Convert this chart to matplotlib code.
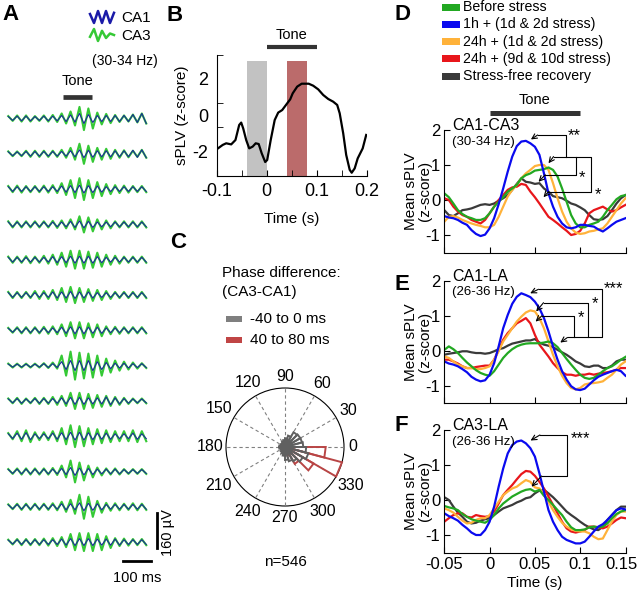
import numpy as np
import matplotlib
matplotlib.use("Agg")
import matplotlib.pyplot as plt
from matplotlib.patches import Rectangle, Circle
from matplotlib.transforms import blended_transform_factory, ScaledTranslation

plt.rcParams['font.family'] = ['Liberation Sans', 'DejaVu Sans']

W, H = 640, 595

# ---------------- panel A: band-passed LFP examples (cycle amplitudes, uV) ----------------
CA3_AMP = [
    [11, 14, 14, 11, 14, 16, 23, 32, 53, 46, 27, 21, 16, 14, 18, 23],
    [11, 11, 14, 14, 14, 14, 18, 27, 46, 37, 27, 23, 18, 16, 14, 18],
    [14, 16, 14, 14, 16, 18, 27, 41, 50, 41, 32, 23, 18, 16, 14, 14],
    [14, 14, 14, 14, 14, 16, 18, 23, 37, 32, 23, 18, 14, 14, 14, 14],
    [14, 14, 16, 14, 18, 23, 32, 41, 41, 37, 32, 23, 18, 14, 14, 14],
    [14, 14, 14, 18, 18, 23, 32, 37, 32, 27, 23, 18, 14, 14, 14, 14],
    [11, 14, 14, 14, 16, 18, 27, 37, 37, 32, 27, 18, 16, 14, 14, 14],
    [9, 9, 9, 9, 11, 14, 46, 64, 59, 55, 46, 32, 23, 18, 14, 11],
    [11, 14, 11, 14, 14, 18, 23, 37, 37, 32, 27, 23, 18, 14, 11, 11],
    [14, 23, 27, 18, 18, 23, 37, 50, 46, 37, 32, 27, 23, 23, 27, 23],
    [11, 14, 14, 14, 14, 16, 27, 50, 41, 27, 18, 14, 14, 11, 11, 11],
    [11, 14, 14, 14, 14, 16, 23, 32, 55, 46, 27, 18, 16, 14, 16, 14],
    [11, 14, 14, 14, 16, 18, 23, 37, 41, 41, 37, 27, 18, 16, 14, 14],
]
CA1_AMP = [
    [9, 11, 11, 9, 11, 11, 14, 16, 23, 18, 14, 14, 14, 14, 18, 23],
    [9, 9, 11, 11, 11, 11, 11, 14, 18, 16, 14, 14, 14, 14, 16, 18],
    [11, 11, 11, 11, 11, 11, 14, 16, 18, 16, 14, 11, 11, 11, 11, 11],
    [11, 11, 11, 11, 11, 11, 11, 14, 16, 14, 11, 11, 11, 11, 11, 11],
    [11, 11, 11, 11, 11, 14, 14, 16, 16, 16, 14, 11, 11, 11, 11, 11],
    [11, 11, 11, 11, 11, 14, 14, 16, 14, 14, 11, 11, 11, 11, 11, 11],
    [9, 11, 11, 11, 11, 11, 14, 16, 16, 14, 14, 11, 11, 11, 11, 11],
    [7, 7, 7, 7, 9, 9, 18, 23, 23, 23, 18, 14, 11, 11, 9, 9],
    [9, 11, 9, 11, 11, 11, 14, 16, 16, 14, 14, 18, 14, 11, 9, 9],
    [11, 14, 16, 11, 11, 14, 16, 18, 18, 16, 14, 14, 11, 11, 14, 11],
    [9, 11, 11, 11, 11, 11, 14, 18, 16, 14, 11, 11, 11, 9, 9, 9],
    [9, 11, 11, 11, 11, 11, 14, 14, 18, 16, 14, 11, 11, 11, 11, 11],
    [9, 11, 11, 11, 11, 11, 14, 16, 16, 16, 14, 14, 14, 11, 11, 11],
]
ICON_CA1 = [0.5, -1, 1, -1, 1, -1, 0.7]
ICON_CA3 = [-0.3, 1, -1, 0.7, -0.5, 0.25, 0]

# ---------------- panel B ----------------
B_TIME = [-0.1, -0.088, -0.081, -0.071, -0.0625, -0.055, -0.051, -0.047, -0.041, -0.035,
          -0.028, -0.022, -0.016, -0.01, -0.003, 0.001, 0.008, 0.016, 0.023, 0.031,
          0.041, 0.047, 0.052, 0.061, 0.070, 0.084, 0.093, 0.103, 0.113, 0.123,
          0.133, 0.141, 0.146, 0.153, 0.159, 0.166, 0.170, 0.176, 0.182, 0.192, 0.199]
B_SPLV = [-1.87, -1.63, -1.54, -1.60, -1.36, -0.53, -0.40, -0.72, -1.36, -1.82,
          -1.72, -1.54, -1.58, -2.09, -2.57, -2.46, -1.36, -0.26, 0.15, 0.29,
          0.66, 0.88, 1.21, 1.58, 1.74, 1.74, 1.63, 1.43, 1.12, 0.90,
          0.75, 0.57, 0.11, -0.99, -2.18, -3.00, -3.16, -2.92, -2.37, -1.82, -1.08]
B_WINDOWS = [(-0.04, 0.0), (0.04, 0.08)]

# ---------------- panel C: rose histogram (24 bins of 15 deg, radius / max) ----------------
ROSE_GRAY = [0.31, 0.30, 0.30, 0.29, 0.20, 0.15, 0.12, 0.10, 0.08, 0.08, 0.08, 0.10,
             0.10, 0.08, 0.08, 0.10, 0.12, 0.15, 0.22, 0.25, 0.28, 0.35, 0.41, 0.36]
ROSE_RED = [0.08, 0.05, 0.03, 0.03, 0.02, 0.02, 0.02, 0.02, 0.02, 0.02, 0.02, 0.02,
            0.02, 0.02, 0.02, 0.02, 0.02, 0.03, 0.06, 0.15, 0.33, 0.56, 1.00, 0.69]
ANGLE_LABELS = [0, 30, 60, 90, 120, 150, 180, 210, 240, 270, 300, 330]

# ---------------- panels D-F: mean sPLV, sampled every 5 ms ----------------
T = np.round(np.arange(-0.05, 0.1501, 0.005), 3)
GROUPS = ['Before stress', '1h + (1d & 2d stress)', '24h + (1d & 2d stress)',
          '24h + (9d & 10d stress)', 'Stress-free recovery']
COLORS = ['#22a822', '#0a0aef', '#ffb23a', '#e8161b', '#3a3a3a']

D_GREEN = [0.19, 0.08, -0.10, -0.29, -0.40, -0.48, -0.52, -0.57, -0.57, -0.52, -0.38, -0.19, -0.05, 0.08,
           0.24, 0.33, 0.43, 0.62, 0.71, 0.76, 0.84, 0.86, 0.88, 0.93, 0.86, 0.67, 0.33, -0.05, -0.43,
           -0.67, -0.78, -0.78, -0.71, -0.67, -0.62, -0.48, -0.29, -0.14, 0.02, 0.11, 0.14]
D_BLUE = [-0.46, -0.50, -0.52, -0.57, -0.65, -0.71, -0.86, -0.97, -1.03, -0.99, -0.81, -0.52, -0.12, 0.33,
          0.81, 1.24, 1.54, 1.67, 1.69, 1.62, 1.52, 1.29, 0.76, 0.19, -0.19, -0.48, -0.67, -0.78, -0.81,
          -0.78, -0.71, -0.71, -0.74, -0.76, -0.84, -0.90, -0.81, -0.71, -0.62, -0.57, -0.52]
D_YELLOW = [-0.62, -0.48, -0.46, -0.50, -0.57, -0.62, -0.67, -0.71, -0.74, -0.78, -0.78, -0.71, -0.48, -0.19,
            0.10, 0.29, 0.43, 0.62, 0.76, 0.86, 0.97, 1.00, 1.00, 0.86, 0.48, 0.05, -0.33, -0.62, -0.81,
            -0.93, -0.97, -0.95, -0.90, -0.88, -0.84, -0.81, -0.67, -0.48, -0.29, -0.10, 0.05]
D_RED = [0.05, 0.00, -0.19, -0.33, -0.43, -0.48, -0.57, -0.62, -0.67, -0.57, -0.38, -0.19, 0.00, 0.14,
         0.29, 0.36, 0.38, 0.46, 0.43, 0.24, 0.08, -0.10, -0.29, -0.48, -0.57, -0.67, -0.78, -0.88, -1.00,
         -0.97, -0.88, -0.67, -0.38, -0.29, -0.24, -0.19, -0.27, -0.33, -0.29, -0.21, -0.14]
D_BLACK = [-0.29, -0.43, -0.46, -0.38, -0.29, -0.27, -0.24, -0.19, -0.14, -0.12, -0.14, -0.10, -0.02, 0.05,
           0.14, 0.29, 0.46, 0.62, 0.52, 0.50, 0.46, 0.48, 0.33, 0.24, 0.11, 0.08, 0.05, -0.02, -0.10,
           -0.14, -0.21, -0.29, -0.43, -0.55, -0.57, -0.55, -0.46, -0.29, -0.10, 0.05, 0.14]

E_GREEN = [0.02, 0.12, 0.04, -0.07, -0.21, -0.34, -0.45, -0.56, -0.64, -0.69, -0.72, -0.59, -0.40, -0.21,
           -0.07, 0.04, 0.12, 0.17, 0.20, 0.21, 0.21, 0.21, 0.23, 0.26, 0.21, 0.10, -0.07, -0.24, -0.40,
           -0.55, -0.69, -0.78, -0.81, -0.78, -0.69, -0.59, -0.50, -0.45, -0.36, -0.26, -0.18]
E_BLUE = [-0.31, -0.37, -0.40, -0.45, -0.53, -0.62, -0.75, -0.83, -0.88, -0.85, -0.69, -0.36, 0.12, 0.64,
          1.02, 1.34, 1.54, 1.64, 1.59, 1.53, 1.40, 1.21, 0.93, 0.55, 0.12, -0.26, -0.59, -0.83, -1.02,
          -1.11, -1.13, -1.09, -0.97, -0.85, -0.75, -0.69, -0.64, -0.59, -0.55, -0.59, -0.72]
E_YELLOW = [-0.17, -0.21, -0.31, -0.40, -0.45, -0.50, -0.50, -0.53, -0.53, -0.50, -0.45, -0.26, -0.02, 0.26,
            0.45, 0.64, 0.83, 0.97, 1.09, 1.15, 1.12, 0.93, 0.64, 0.26, -0.12, -0.45, -0.72, -0.93, -1.07,
            -1.11, -1.07, -0.97, -0.94, -0.93, -0.91, -0.88, -0.78, -0.69, -0.55, -0.40, -0.31]
E_RED = [-0.26, -0.26, -0.31, -0.37, -0.45, -0.50, -0.50, -0.47, -0.45, -0.43, -0.43, -0.26, 0.02, 0.31,
         0.50, 0.64, 0.78, 0.85, 0.93, 0.78, 0.45, 0.17, 0.00, -0.17, -0.36, -0.50, -0.62, -0.69, -0.69,
         -0.72, -0.69, -0.69, -0.66, -0.69, -0.66, -0.64, -0.62, -0.59, -0.55, -0.50, -0.50]
E_BLACK = [-0.12, -0.09, -0.07, -0.05, -0.02, -0.02, -0.05, -0.07, -0.07, -0.09, -0.07, -0.02, 0.04, 0.07,
           0.14, 0.20, 0.23, 0.26, 0.29, 0.29, 0.33, 0.23, 0.17, 0.14, 0.10, 0.02, -0.05, -0.12, -0.21,
           -0.31, -0.37, -0.45, -0.47, -0.43, -0.43, -0.50, -0.50, -0.43, -0.31, -0.26, -0.26]

F_GREEN = [-0.17, -0.21, -0.24, -0.29, -0.40, -0.48, -0.55, -0.59, -0.62, -0.65, -0.57, -0.43, -0.24, -0.10,
           0.00, 0.10, 0.17, 0.24, 0.29, 0.31, 0.24, 0.29, 0.12, 0.00, -0.14, -0.29, -0.43, -0.62, -0.78,
           -0.86, -0.86, -0.84, -0.78, -0.76, -0.78, -0.76, -0.67, -0.52, -0.40, -0.33, -0.29]
F_BLUE = [-0.38, -0.46, -0.52, -0.59, -0.71, -0.81, -0.93, -1.00, -1.00, -0.86, -0.62, -0.19, 0.38, 0.90,
          1.33, 1.57, 1.67, 1.70, 1.62, 1.48, 1.24, 0.76, 0.24, -0.29, -0.62, -0.86, -1.05, -1.14, -1.19,
          -1.24, -1.24, -1.19, -1.05, -0.90, -0.76, -0.69, -0.57, -0.43, -0.29, -0.24, -0.27]
F_YELLOW = [-0.24, -0.29, -0.36, -0.48, -0.59, -0.67, -0.65, -0.57, -0.52, -0.52, -0.43, -0.24, -0.05, 0.14,
            0.24, 0.33, 0.38, 0.48, 0.57, 0.52, 0.36, 0.33, 0.19, -0.05, -0.29, -0.48, -0.65, -0.76, -0.84,
            -0.88, -0.90, -0.90, -0.95, -1.05, -1.12, -1.10, -0.86, -0.62, -0.43, -0.33, -0.33]
F_RED = [-0.62, -0.52, -0.43, -0.38, -0.38, -0.48, -0.50, -0.43, -0.46, -0.48, -0.46, -0.33, -0.10, 0.14,
         0.29, 0.43, 0.59, 0.74, 0.83, 0.81, 0.69, 0.52, 0.33, 0.10, -0.14, -0.38, -0.62, -0.81, -0.90,
         -0.93, -0.90, -0.86, -0.76, -0.76, -0.78, -0.81, -0.76, -0.67, -0.57, -0.50, -0.52]
F_BLACK = [0.08, 0.00, -0.19, -0.36, -0.48, -0.62, -0.67, -0.65, -0.59, -0.55, -0.52, -0.43, -0.33, -0.24,
           -0.19, -0.14, -0.07, -0.02, 0.05, 0.08, 0.19, 0.27, 0.29, 0.19, 0.08, -0.05, -0.19, -0.33, -0.43,
           -0.52, -0.62, -0.71, -0.78, -0.84, -0.86, -0.76, -0.57, -0.43, -0.29, -0.19, -0.19]

# significance brackets: arrows (tip, tail) in data coords, bracket polylines, star labels
D_ARROWS = [((0.0456, 1.73), (0.053, 1.857)), ((0.065, 1.05), (0.0706, 1.24)),
            ((0.054, 0.52), (0.0614, 0.72)), ((0.0595, 0.08), (0.065, 0.24))]
D_LINES = [[(0.053, 1.857), (0.0843, 1.857), (0.0843, 1.24)],
           [(0.0706, 1.24), (0.1123, 1.24), (0.1123, 0.24), (0.065, 0.24)],
           [(0.0953, 1.24), (0.0953, 0.72), (0.0614, 0.72)]]
D_STARS = [(0.0865, 1.84, '**'), (0.0985, 0.64, '*'), (0.1155, 0.16, '*')]

E_ARROWS = [((0.0448, 1.64), (0.054, 1.755)), ((0.0514, 1.12), (0.0595, 1.37)),
            ((0.0507, 0.83), (0.0577, 0.995)), ((0.078, 0.23), (0.086, 0.376))]
E_LINES = [[(0.054, 1.755), (0.124, 1.755), (0.124, 0.376), (0.086, 0.376)],
           [(0.0595, 1.37), (0.1082, 1.37), (0.1082, 0.376)],
           [(0.0577, 0.995), (0.0927, 0.995), (0.0927, 0.376)]]
E_STARS = [(0.1255, 1.76, '***'), (0.1125, 1.33, '*'), (0.097, 0.93, '*')]

F_ARROWS = [((0.0452, 1.70), (0.0555, 1.857)), ((0.0463, 0.38), (0.0574, 0.686))]
F_LINES = [[(0.0555, 1.857), (0.0849, 1.857), (0.0849, 0.686), (0.0574, 0.686)]]
F_STARS = [(0.0895, 1.76, '***')]

# ---------------- figure ----------------
fig = plt.figure(figsize=(W / 100, H / 100), dpi=100)


def px_axes(left, top, right, bottom):
    ax = fig.add_axes([left / W, 1 - bottom / H, (right - left) / W, (bottom - top) / H])
    ax.set_facecolor('none')
    return ax


ov = px_axes(0, 0, W, H)
ov.set_xlim(0, W)
ov.set_ylim(H, 0)
ov.axis('off')

for lbl, x, y in [('A', 2, 4), ('B', 167, 5), ('C', 170, 232), ('D', 394, 4), ('E', 394, 274), ('F', 394, 415)]:
    ov.text(x, y, lbl, fontsize=16, fontweight='bold', ha='left', va='top')

# ---- A ----
UV_PX = 160 / 35.0        # microvolts per pixel
MS_PX = 0.285             # pixels per ms
GAP = 35.3 * UV_PX
axA = px_axes(6, 100, 6 + 500 * MS_PX, 566)
axA.set_xlim(-200, 300)
axA.set_ylim(-(566 - 118.5) * UV_PX, (118.5 - 100) * UV_PX)
axA.axis('off')
nh = 2 * len(CA3_AMP[0])
t_half = -200 + (np.arange(nh) + 0.5) * 500 / nh
sgn = np.where(np.arange(nh) % 2 == 0, 1, -1)
for i, (a3, a1) in enumerate(zip(CA3_AMP, CA1_AMP)):
    off = -i * GAP
    axA.plot(t_half, off + sgn * np.repeat(a3, 2), color='#35c935', lw=1.5)
    axA.plot(t_half, off + sgn * np.repeat(a1, 2), color='#1a2a9a', lw=0.8)
axA.plot([0, 100], [(118.5 - 97) * UV_PX] * 2, color='#333333', lw=3.4, solid_capstyle='butt', clip_on=False)
axA.text(50, (118.5 - 81) * UV_PX, 'Tone', ha='center', va='center', fontsize=10.5)
axA.plot([330, 330], [-(513 - 118.5) * UV_PX, -(513 - 118.5) * UV_PX - 160], color='k', lw=2, clip_on=False)
axA.text(368, -(533 - 118.5) * UV_PX, '160 µV', rotation=90, ha='center', va='center', fontsize=10.5)
axA.plot([210, 310], [-(561 - 118.5) * UV_PX] * 2, color='k', lw=2, clip_on=False)
axA.text(260, -(578 - 118.5) * UV_PX, '100 ms', ha='center', va='center', fontsize=10.5, clip_on=False)

ix = 90 + np.arange(len(ICON_CA1)) * 24 / (len(ICON_CA1) - 1)
ov.plot(ix, 17 - 6 * np.array(ICON_CA1), color='#1a1aa8', lw=1.8)
ov.plot(ix, 35 - 6 * np.array(ICON_CA3), color='#35c935', lw=1.8)
ov.text(121, 18, 'CA1', fontsize=11, va='center')
ov.text(121, 36, 'CA3', fontsize=11, va='center')
ov.text(92, 61, '(30-34 Hz)', fontsize=10, va='center')

# ---- B ----
axB = px_axes(216.7, 55, 366.7, 176)
for (a, b), c in zip(B_WINDOWS, ['#c2c2c2', '#bb6b6b']):
    axB.bar((a + b) / 2, 3.0 + 3.34, width=b - a, bottom=-3.34, color=c, lw=0)
axB.plot(B_TIME, B_SPLV, color='k', lw=1.6)
axB.set_xlim(-0.1, 0.2)
axB.set_ylim(-3.34, 3.32)
axB.set_xticks([-0.1, 0, 0.1, 0.2], ['-0.1', '0', '0.1', '0.2'])
axB.set_xticks(np.arange(-0.1, 0.201, 0.05), minor=True)
axB.set_yticks([-2, 0, 2], ['-2', '0', '2'])
axB.set_yticks([-2, -0.667, 0.667, 2, 3.32], minor=True)
axB.tick_params(axis='both', which='both', direction='in', labelsize=13)
axB.tick_params(axis='x', which='major', length=4, pad=5)
axB.tick_params(axis='x', which='minor', length=4)
axB.tick_params(axis='y', which='major', length=0, pad=6)
axB.tick_params(axis='y', which='minor', length=4)
for s in ['top', 'right']:
    axB.spines[s].set_visible(False)
axB.set_xlabel('Time (s)', fontsize=11)
axB.xaxis.set_label_coords(0.5, -(219 - 176) / 121)
axB.xaxis.label.set_va('center')
axB.set_ylabel('sPLV (z-score)', fontsize=11)
axB.yaxis.set_label_coords((182 - 216.7) / 150, 0.5)
axB.yaxis.label.set_va('center')
trB = blended_transform_factory(axB.transData, axB.transAxes)
axB.plot([0, 0.1], [1 + 8 / 121] * 2, color='#333333', lw=3, solid_capstyle='butt', transform=trB, clip_on=False)
axB.text(0.05, 1 + 20 / 121, 'Tone', transform=trB, ha='center', va='center', fontsize=10.5)

# ---- C ----
R = 59.0
axC = px_axes(185, 347, 385, 547)
axC.set_xlim(-100 / R, 100 / R)
axC.set_ylim(-100 / R, 100 / R)
axC.axis('off')
for a in ANGLE_LABELS:
    th = np.deg2rad(a)
    axC.plot([0, np.cos(th)], [0, np.sin(th)], color='#808080', lw=0.8, ls=(0, (3, 2.5)))
    w = 6.5 * len(str(a)) / R
    rl = 1.1 + 0.5 * w * abs(np.cos(th)) + 0.1 * abs(np.sin(th))
    axC.text(rl * np.cos(th), rl * np.sin(th), str(a), ha='center', va='center', fontsize=11.5)
axC.add_patch(Circle((0, 0), 1, fill=False, ec='k', lw=0.8))
nb = len(ROSE_RED)
for radii, col in [(ROSE_RED, '#b94545'), (ROSE_GRAY, '#606060')]:
    for i, r in enumerate(radii):
        t1, t2 = np.deg2rad(i * 360 / nb), np.deg2rad((i + 1) * 360 / nb)
        axC.plot([0, r * np.cos(t1), r * np.cos(t2), 0], [0, r * np.sin(t1), r * np.sin(t2), 0],
                 color=col, lw=1.4, solid_joinstyle='miter')
ov.text(285, 562, 'n=546', ha='center', va='center', fontsize=11)
ov.text(222, 273, 'Phase difference:', va='center', fontsize=11)
ov.text(222, 292, '(CA3-CA1)', va='center', fontsize=11)
for y, c, lbl in [(319, '#7f7f7f', '-40 to 0 ms'), (340, '#c04545', '40 to 80 ms')]:
    ov.add_patch(Rectangle((226, y - 3), 16, 6, color=c, lw=0))
    ov.text(250, y, lbl, va='center', fontsize=11)

# ---- D legend ----
for j, (g, c) in enumerate(zip(GROUPS, COLORS)):
    y = 7 + 17.3 * j
    ov.add_patch(Rectangle((441.7, y - 3.5), 18.3, 7, color=c, lw=0))
    ov.text(463.3, y, g, va='center', fontsize=10.2)

# ---- D, E, F ----
panels = [
    (130, 252.5, 'CA1-CA3', '(30-34 Hz)', [D_GREEN, D_BLUE, D_YELLOW, D_RED, D_BLACK], D_ARROWS, D_LINES, D_STARS),
    (280.7, 403, 'CA1-LA', '(26-36 Hz)', [E_GREEN, E_BLUE, E_YELLOW, E_RED, E_BLACK], E_ARROWS, E_LINES, E_STARS),
    (430, 552.5, 'CA3-LA', '(26-36 Hz)', [F_GREEN, F_BLUE, F_YELLOW, F_RED, F_BLACK], F_ARROWS, F_LINES, F_STARS),
]
draw_order = [4, 3, 2, 0, 1]
for p, (top, bot, name, band, series, arrows, lines, stars) in enumerate(panels):
    ax = px_axes(444.3, top, 625.5, bot)
    for k in draw_order:
        ax.plot(T, series[k], color=COLORS[k], lw=1.6)
    ax.set_xlim(-0.05, 0.15)
    ax.set_ylim(-1.5, 2)
    ax.set_yticks([-1, 0, 1, 2], ['-1', '0', '1', '2'])
    ax.tick_params(direction='in', length=4, labelsize=12, pad=3)
    if p == 2:
        ax.set_xticks([-0.05, 0, 0.05, 0.1, 0.15], ['-0.05', '0', '0.05', '0.1', '0.15'])
        last = ax.get_xticklabels()[-1]
        last.set_transform(last.get_transform() + ScaledTranslation(-4 / 100, 0, fig.dpi_scale_trans))
        ax.set_xlabel('Time (s)', fontsize=11)
        ax.xaxis.set_label_coords(0.5, -(583 - bot) / (bot - top))
        ax.xaxis.label.set_va('center')
    else:
        ax.set_xticks([-0.05, 0, 0.05, 0.1, 0.15], [])
    for s in ['top', 'right']:
        ax.spines[s].set_visible(False)
    ax.set_ylabel('Mean sPLV\n(z-score)', fontsize=11, linespacing=1.05)
    ax.yaxis.set_label_coords((418 - 444.3) / 181.2, 0.5)
    ax.yaxis.label.set_va('center')
    ax.text(0.045, 1.0, name, transform=ax.transAxes, fontsize=11.5, va='baseline')
    ax.text(0.045, 0.955, band, transform=ax.transAxes, fontsize=9.5, va='top')
    for tip, tail in arrows:
        ax.annotate('', xy=tip, xytext=tail,
                    arrowprops=dict(arrowstyle='->', lw=0.8, color='k', shrinkA=0, shrinkB=0,
                                    mutation_scale=9))
    for ln in lines:
        xs, ys = zip(*ln)
        ax.plot(xs, ys, color='k', lw=0.8, clip_on=False)
    for x, y, s in stars:
        ax.text(x, y, s, fontsize=12, ha='left', va='center')
    if p == 0:
        tr = blended_transform_factory(ax.transData, ax.transAxes)
        ax.plot([0, 0.1], [1 + 17 / 122.5] * 2, color='#333333', lw=3.6, solid_capstyle='butt',
                transform=tr, clip_on=False)
        ax.text(0.05, 1 + 30 / 122.5, 'Tone', transform=tr, ha='center', va='center', fontsize=10.5)

fig.savefig('out.png', dpi=100)
